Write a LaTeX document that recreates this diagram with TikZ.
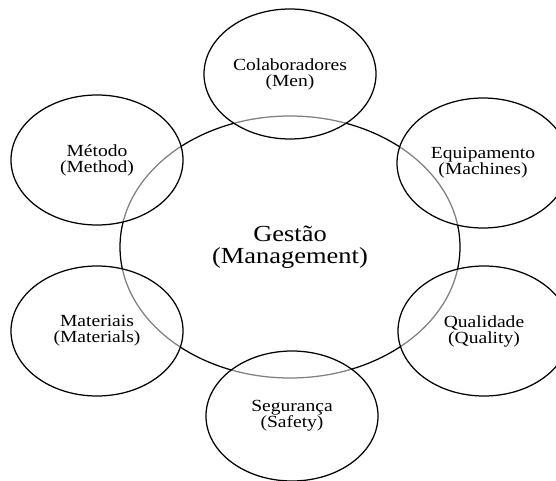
\documentclass[tikz,border=0pt]{standalone}
\usepackage{fontspec}
\setmainfont{Liberation Serif}[FakeStretch=1.15]
\usetikzlibrary{shapes.geometric}
\begin{document}
\begin{tikzpicture}[x=1pt,y=-1pt,
  hub/.style={ellipse,draw=black,line width=1.25pt,minimum width=340pt,minimum height=262pt,
    align=center,font=\fontsize{23}{22}\selectfont,inner sep=0pt},
  factor/.style={ellipse,draw=black,line width=1.25pt,fill=white,fill opacity=0.5,
    text opacity=1,draw opacity=1,minimum width=172pt,minimum height=130pt,
    align=center,font=\fontsize{17}{16}\selectfont,inner sep=0pt}]
\useasboundingbox (0,0) rectangle (556,481);
\clip (0,0) rectangle (556,481);
\node[hub] (gestao) at (290,247) {Gestão\\(Management)};
\node[factor] (men) at (290,74) {Colaboradores\\(Men)};
\node[factor] (machines) at (483,163) {Equipamento\\(Machines)};
\node[factor] (method) at (97,160) {Método\\(Method)};
\node[factor] (materials) at (97,331) {Materiais\\(Materials)};
\node[factor] (quality) at (484,331) {Qualidade\\(Quality)};
\node[factor] (safety) at (292,416) {Segurança\\(Safety)};
\end{tikzpicture}
\end{document}
